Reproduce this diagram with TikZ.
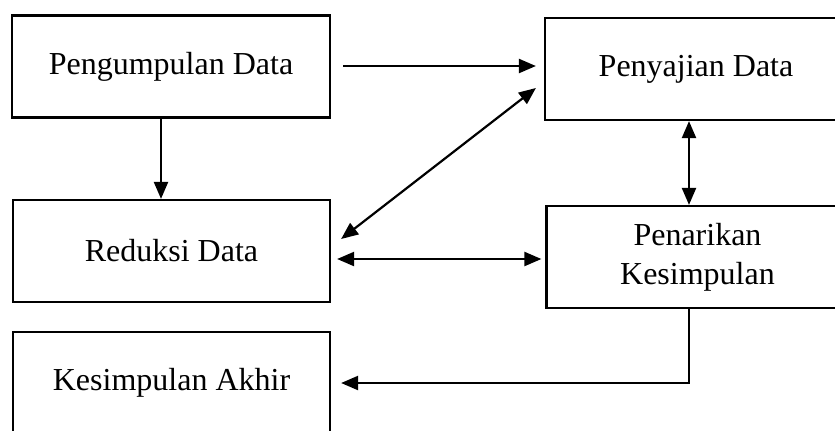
\documentclass[tikz,border=0pt]{standalone}
\usepackage{fontspec}
\setmainfont{Liberation Serif}
\usetikzlibrary{arrows.meta}

\begin{document}
\begin{tikzpicture}[
    x=0.5pt,y=-0.5pt,
    stage/.style={
      draw,line width=1.1pt,rectangle,align=center,inner sep=0pt,
      font=\fontsize{16}{19.5}\selectfont
    },
    leftbox/.style={
      stage,minimum width=158.5pt,minimum height=51pt
    },
    rightbox/.style={
      stage,minimum width=151pt,minimum height=51pt
    },
    flow/.style={
      line width=1.1pt,-{Triangle[length=8.5pt,width=7pt]}
    },
    bothflow/.style={
      line width=1.1pt,{Triangle[length=8.5pt,width=7pt]}-{Triangle[length=8.5pt,width=7pt]}
    }]

      \clip (0,0) rectangle (835,430);

      \node[leftbox,minimum width=159pt] (collect) at (171,66.5) {Pengumpulan Data};
      \node[rightbox] (present) at (696,69) {Penyajian Data};
      \node[leftbox] (reduce) at (171.5,251) {Reduksi Data};
      \node[rightbox] (conclude) at (697.5,257)
        {\raisebox{-2pt}{\begin{tabular}{@{}c@{}}Penarikan\\Kesimpulan\end{tabular}}};
      \node[leftbox] (final) at (171.5,383) {Kesimpulan Akhir};

      \draw[flow] ([xshift=6pt,yshift=0.25pt]collect.east) -- ([xshift=-4pt,yshift=1.5pt]present.west);
      \draw[flow] ([xshift=-5pt]collect.south) -- ([xshift=-5pt]collect.south |- reduce.north);
      \draw[bothflow] ([xshift=5pt,yshift=6pt]reduce.east) -- ([xshift=-4pt,yshift=-9.5pt]present.west);
      \draw[bothflow] ([xshift=-3.5pt]present.south) -- ([xshift=-4.25pt]conclude.north);
      \draw[bothflow] ([xshift=3pt,yshift=-4pt]reduce.east) -- ([xshift=-2pt,yshift=-1pt]conclude.west);
      \draw[flow] ([xshift=-4.25pt]conclude.south) |- ([xshift=5pt]final.east);
  \end{tikzpicture}
\end{document}
